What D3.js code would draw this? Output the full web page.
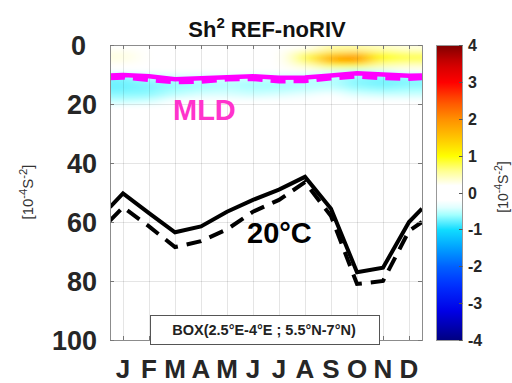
<!DOCTYPE html>
<html>
<head>
<meta charset="utf-8">
<script src="https://cdn.jsdelivr.net/npm/d3@7"></script>
<style>
  body { margin: 0; background: #fff; }
  svg { font-family: "Liberation Sans", Arial, sans-serif; font-weight: bold; }
</style>
</head>
<body>
<svg id="chart" width="512" height="383"></svg>
<script>
// month letters on the x axis
var months = ["J", "F", "M", "A", "M", "J", "J", "A", "S", "O", "N", "D"];
// x positions of the line points (0.5 and 12.5 are the plot edges)
var monthPos = [0.5, 1, 2, 3, 4, 5, 6, 7, 8, 9, 10, 11, 12, 12.5];

// 20°C isotherm depth (m)
var iso20Solid  = [55, 50.3, 57, 63.5, 61.5, 56.5, 52.5, 49, 44.7, 55.5, 77, 75.5, 60, 55.5];
var iso20Dashed = [59.5, 55, 61.5, 68.5, 66.5, 62.5, 56.5, 52.5, 46.5, 58, 81, 80, 63, 60];

// mixed layer depth (m)
var mldSolid  = [10.3, 10.2, 10.6, 11.6, 11.3, 10.9, 10.6, 11.1, 11.0, 10.3, 9.6, 10.0, 10.4, 10.3];
var mldDashed = [11.2, 11.0, 11.8, 12.6, 12.4, 11.6, 11.5, 12.3, 12.2, 11.3, 10.6, 11.2, 11.4, 11.2];

// shear squared difference, rows = depth bands, columns = months
var shearDepths = [1, 3, 5, 7, 9, 11, 13, 15, 17, 19, 21];
var shearDiff = [
  [0.1, 0, 0, 0, 0, 0, 0, 0.2, 0.5, 0.5, 0.4, 0.3],
  [0.3, 0, 0, 0, 0, 0, 0, 0.7, 1.3, 1.5, 0.9, 0.7],
  [0.3, 0, 0, 0, 0, 0, 0, 0.9, 2.0, 2.2, 1.0, 0.8],
  [0.1, 0, 0, 0, 0, 0, 0, 0.4, 1.0, 1.0, 0.5, 0.4],
  [0, 0, 0, 0, 0, 0, 0, -0.2, -0.4, -0.5, -0.4, -0.2],
  [-0.7, -0.55, -0.45, -0.45, -0.4, -0.45, -0.45, -0.5, -0.5, -0.65, -0.7, -0.65],
  [-0.75, -0.7, -0.65, -0.6, -0.55, -0.6, -0.6, -0.55, -0.55, -0.7, -0.75, -0.7],
  [-0.75, -0.7, -0.6, -0.55, -0.5, -0.55, -0.55, -0.5, -0.45, -0.6, -0.65, -0.6],
  [-0.65, -0.65, -0.5, -0.4, -0.4, -0.45, -0.4, -0.35, -0.3, -0.4, -0.45, -0.45],
  [-0.5, -0.45, -0.3, -0.2, -0.2, -0.25, -0.2, -0.2, -0.1, -0.2, -0.2, -0.25],
  [-0.3, -0.2, 0, 0, 0, 0, 0, 0, 0, 0, 0, 0]
];

var depthTicks = [0, 20, 40, 60, 80, 100];
var colorTicks = [4, 3, 2, 1, 0, -1, -2, -3, -4];

var svg = d3.select("#chart");

// plot area
var pLeft = 110, pRight = 422, pTop = 45, pBottom = 340;

var xScale = d3.scaleLinear().domain([0.5, 12.5]).range([pLeft, pRight]);
var yScale = d3.scaleLinear().domain([0, 100]).range([pTop, pBottom]);

// blue - white - red colormap like the matlab one
var colorScale = d3.scaleLinear()
    .domain([-4, -3.2, -2.5, -2, -1.5, -1, -0.6, -0.3, 0.2, 0.6, 1, 1.5, 2, 2.5, 3, 3.5, 4])
    .range(["#000080", "#0000e6", "#0030ff", "#0060ff", "#00a0ff", "#10dcff", "#a0ffff", "#ffffff",
            "#ffffff", "#ffff90", "#ffff00", "#ffc400", "#ff9000", "#ff5000", "#ff0000", "#d00000", "#800000"])
    .clamp(true);

var defs = svg.append("defs");
defs.append("clipPath").attr("id", "plotClip")
    .append("rect").attr("x", pLeft).attr("y", pTop)
    .attr("width", pRight - pLeft).attr("height", pBottom - pTop);
defs.append("filter").attr("id", "smooth")
    .attr("x", "-20%").attr("y", "-20%").attr("width", "140%").attr("height", "140%")
    .append("feGaussianBlur").attr("stdDeviation", "10 3");

// heat map (blurred to look like the interpolated field)
var heat = svg.append("g").attr("clip-path", "url(#plotClip)")
    .append("g").attr("filter", "url(#smooth)");

shearDiff.forEach(function (row, i) {
    var d = shearDepths[i];
    row.forEach(function (v, j) {
        var x0 = xScale(j + 0.5), x1 = xScale(j + 1.5);
        // stretch edge cells past the frame so the blur doesn't fade them
        if (j === 0) x0 -= 30;
        if (j === row.length - 1) x1 += 30;
        var y0 = yScale(d - 1), y1 = yScale(d + 1);
        if (i === 0) y0 -= 20;
        heat.append("rect")
            .attr("x", x0).attr("y", y0)
            .attr("width", x1 - x0).attr("height", y1 - y0)
            .attr("fill", colorScale(v));
    });
});

// grid
var grid = svg.append("g").attr("stroke", "rgba(0,0,0,0.1)").attr("stroke-width", 1);
d3.range(1, 13).forEach(function (m) {
    grid.append("line").attr("x1", xScale(m) + 0.5).attr("x2", xScale(m) + 0.5)
        .attr("y1", pTop).attr("y2", pBottom);
});
depthTicks.forEach(function (d) {
    grid.append("line").attr("x1", pLeft).attr("x2", pRight)
        .attr("y1", Math.round(yScale(d)) + 0.5).attr("y2", Math.round(yScale(d)) + 0.5);
});

var line = d3.line()
    .x(function (d) { return xScale(d[0]); })
    .y(function (d) { return yScale(d[1]); });

function drawLine(values, color, width, dash) {
    svg.append("path")
        .datum(d3.zip(monthPos, values))
        .attr("d", line)
        .attr("fill", "none")
        .attr("stroke", color)
        .attr("stroke-width", width)
        .attr("stroke-dasharray", dash)
        .attr("clip-path", "url(#plotClip)");
}

drawLine(mldDashed, "#ff00ff", 4.5, "15 8");
drawLine(mldSolid, "#ff00ff", 4.5, null);
drawLine(iso20Dashed, "#000", 4, "15 9");
drawLine(iso20Solid, "#000", 4, null);

// frame and inner ticks
svg.append("rect").attr("x", pLeft + 0.5).attr("y", pTop + 0.5)
    .attr("width", pRight - pLeft).attr("height", pBottom - pTop)
    .attr("fill", "none").attr("stroke", "#8c8c8c").attr("stroke-width", 1);

var ticks = svg.append("g").attr("stroke", "#777").attr("stroke-width", 1);
d3.range(1, 13).forEach(function (m) {
    var x = xScale(m) + 0.5;
    ticks.append("line").attr("x1", x).attr("x2", x).attr("y1", pTop).attr("y2", pTop + 4);
    ticks.append("line").attr("x1", x).attr("x2", x).attr("y1", pBottom).attr("y2", pBottom - 4);
});
depthTicks.forEach(function (d) {
    var y = Math.round(yScale(d)) + 0.5;
    ticks.append("line").attr("x1", pLeft).attr("x2", pLeft + 4).attr("y1", y).attr("y2", y);
    ticks.append("line").attr("x1", pRight).attr("x2", pRight - 4).attr("y1", y).attr("y2", y);
});

// box label
svg.append("rect").attr("x", 150.5).attr("y", 315.5).attr("width", 229).attr("height", 29)
    .attr("fill", "#fff").attr("stroke", "#555").attr("stroke-width", 1);
svg.append("text").attr("x", 264).attr("y", 335).attr("text-anchor", "middle")
    .attr("font-size", 14.5).attr("fill", "#222")
    .text("BOX(2.5°E-4°E ; 5.5°N-7°N)");

// axis labels
svg.append("g").selectAll("text").data(depthTicks).enter().append("text")
    .attr("x", function (d) { return d === 0 ? 86 : 97; })
    .attr("y", function (d) { return yScale(d) + 10; })
    .attr("text-anchor", "end")
    .attr("font-size", 27).attr("fill", "#262626")
    .text(function (d) { return d; });

svg.append("g").selectAll("text").data(months).enter().append("text")
    .attr("x", function (d, i) { return xScale(i + 1); })
    .attr("y", 378)
    .attr("text-anchor", "middle")
    .attr("font-size", 26).attr("fill", "#262626")
    .text(function (d) { return d; });

// title
var title = svg.append("text").attr("x", 267).attr("y", 37).attr("text-anchor", "middle")
    .attr("font-size", 22).attr("fill", "#111");
title.append("tspan").text("Sh");
title.append("tspan").attr("font-size", 15).attr("dy", -9).text("2");
title.append("tspan").attr("dy", 9).text(" REF-noRIV");

// annotations
svg.append("text").attr("x", 173).attr("y", 120).attr("font-size", 29)
    .attr("fill", "#ff33cc").text("MLD");
svg.append("text").attr("x", 247).attr("y", 243).attr("font-size", 29)
    .attr("fill", "#000").text("20°C");

// colorbar
var cbLeft = 436, cbWidth = 26;
var cScale = d3.scaleLinear().domain([4, -4]).range([pTop, pBottom]);
var grad = defs.append("linearGradient").attr("id", "cbGrad")
    .attr("x1", 0).attr("y1", 0).attr("x2", 0).attr("y2", 1);
d3.range(0, 41).forEach(function (k) {
    var v = 4 - k * 0.2;
    grad.append("stop").attr("offset", (k / 40 * 100) + "%").attr("stop-color", colorScale(v));
});
svg.append("rect").attr("x", cbLeft + 0.5).attr("y", pTop + 0.5)
    .attr("width", cbWidth).attr("height", pBottom - pTop)
    .attr("fill", "url(#cbGrad)").attr("stroke", "#999").attr("stroke-width", 1);

var cbTicks = svg.append("g");
colorTicks.forEach(function (v) {
    var y = Math.round(cScale(v)) + 0.5;
    cbTicks.append("line").attr("x1", cbLeft + cbWidth - 3).attr("x2", cbLeft + cbWidth + 0.5)
        .attr("y1", y).attr("y2", y).attr("stroke", "#555");
    cbTicks.append("text").attr("x", 468).attr("y", cScale(v) + 6)
        .attr("font-size", 16).attr("fill", "#262626").text(v);
});

// unit labels
function unitLabel(x, y, size) {
    var t = svg.append("text")
        .attr("transform", "translate(" + x + "," + y + ") rotate(-90)")
        .attr("text-anchor", "middle")
        .attr("font-size", size).attr("font-weight", "normal").attr("fill", "#333");
    t.append("tspan").text("[10");
    t.append("tspan").attr("font-size", size * 0.75).attr("dy", -6).text("-4");
    t.append("tspan").attr("dy", 6).text("S");
    t.append("tspan").attr("font-size", size * 0.75).attr("dy", -6).text("-2");
    t.append("tspan").attr("dy", 6).text("]");
}
unitLabel(33, 192, 15);
unitLabel(508, 187, 14);
</script>
</body>
</html>
